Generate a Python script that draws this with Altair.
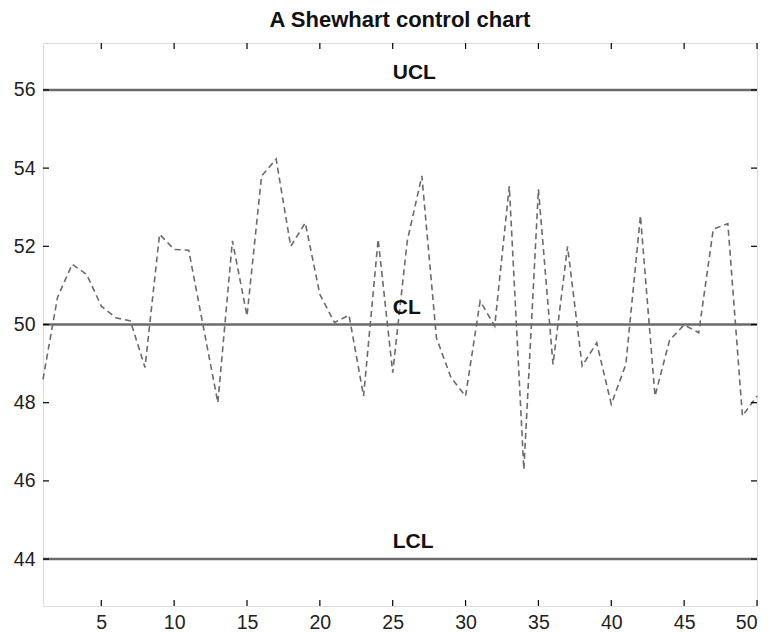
import altair as alt
import pandas as pd

samples = list(range(1, 51))
values = [48.6, 50.7, 51.54, 51.28, 50.47, 50.17, 50.09, 48.9, 52.31, 51.92,
          51.9, 49.95, 48.0, 52.14, 50.22, 53.8, 54.23, 52.0, 52.6, 50.77,
          50.05, 50.24, 48.17, 52.18, 48.77, 52.14, 53.8, 49.66, 48.64, 48.17,
          50.6, 49.96, 53.54, 46.29, 53.46, 48.98, 52.0, 48.94, 49.53, 47.96,
          48.98, 52.78, 48.17, 49.6, 49.99, 49.79, 52.44, 52.58, 47.66, 48.17]

limit_names = ["UCL", "CL", "LCL"]
limit_values = [56, 50, 44]
label_x = 25
label_offset = 0.43

x_ticks = [5, 10, 15, 20, 25, 30, 35, 40, 45, 50]
y_ticks = [44, 46, 48, 50, 52, 54, 56]

W, H = 714, 563
FONT = "Liberation Sans"
GRAY = "#6b6b6b"

df = pd.DataFrame({"sample": samples, "value": values})
lim = pd.DataFrame({"name": limit_names, "value": limit_values,
                    "lx": [label_x] * 3,
                    "ly": [v + label_offset for v in limit_values]})
xt = pd.DataFrame({"t": x_ticks})
yt = pd.DataFrame({"t": y_ticks})

xs = alt.Scale(domain=[1, 50], nice=False, zero=False)
ys = alt.Scale(domain=[42.8, 57.2], nice=False, zero=False)

xaxis = alt.Axis(values=x_ticks, ticks=False, domain=False, grid=False,
                 labelFont=FONT, labelFontSize=19.5, labelColor="#222",
                 labelPadding=7, title=None)
yaxis = alt.Axis(values=y_ticks, ticks=False, domain=False, grid=False,
                 labelFont=FONT, labelFontSize=19.5, labelColor="#222",
                 labelPadding=8, title=None)

line = alt.Chart(df).mark_line(color=GRAY, strokeWidth=1.6, strokeDash=[6, 4]).encode(
    x=alt.X("sample:Q", scale=xs, axis=xaxis),
    y=alt.Y("value:Q", scale=ys, axis=yaxis),
)

limits = alt.Chart(lim).mark_rule(color=GRAY, strokeWidth=2.5).encode(
    y=alt.Y("value:Q", scale=ys),
    x=alt.value(0), x2=alt.value(W),
)

labels = alt.Chart(lim).mark_text(align="left", baseline="middle", font=FONT,
                                  fontSize=21, fontWeight="bold", color="#111").encode(
    x=alt.X("lx:Q", scale=xs),
    y=alt.Y("ly:Q", scale=ys),
    text="name:N",
)

xt_bot = alt.Chart(xt).mark_rule(color="black", strokeWidth=1.2).encode(
    x=alt.X("t:Q", scale=xs), y=alt.value(H), y2=alt.value(H - 6))
xt_top = alt.Chart(xt).mark_rule(color="black", strokeWidth=1.2).encode(
    x=alt.X("t:Q", scale=xs), y=alt.value(0), y2=alt.value(6))
yt_left = alt.Chart(yt).mark_rule(color="black", strokeWidth=1.2).encode(
    y=alt.Y("t:Q", scale=ys), x=alt.value(0), x2=alt.value(6))
yt_right = alt.Chart(yt).mark_rule(color="black", strokeWidth=1.2).encode(
    y=alt.Y("t:Q", scale=ys), x=alt.value(W), x2=alt.value(W - 6))

chart = alt.layer(limits, line, labels, xt_bot, xt_top, yt_left, yt_right).properties(
    width=W, height=H,
    title=alt.TitleParams("A Shewhart control chart", font=FONT, fontSize=22,
                          fontWeight="bold", color="#111", anchor="middle", offset=10),
    autosize=alt.AutoSizeParams(type="none"),
    padding={"left": 43, "top": 43, "right": 13, "bottom": 26},
).configure_view(stroke="black", strokeWidth=2).configure(background="white")

chart.save("out.html", embed_options={"renderer": "svg", "actions": False})
